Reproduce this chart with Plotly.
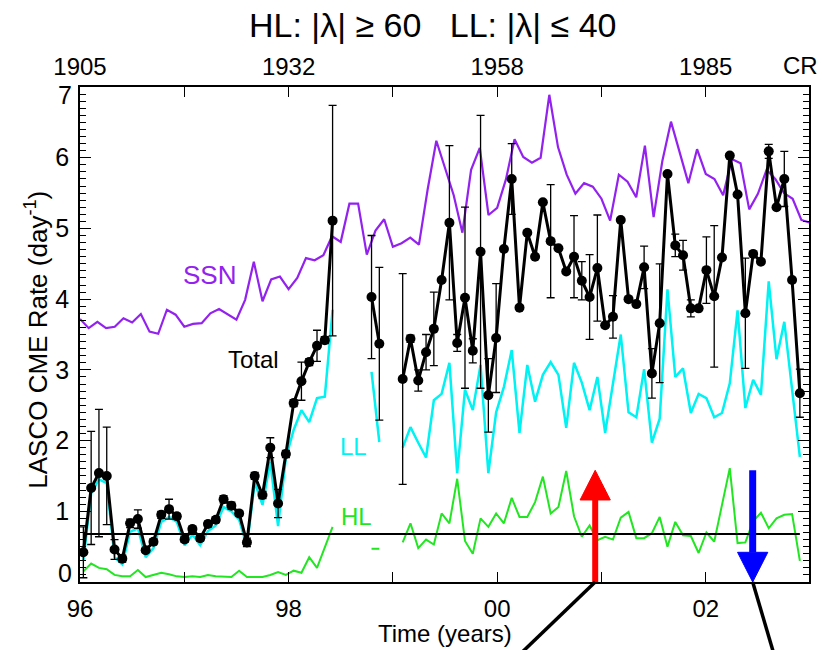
import plotly.graph_objects as go

# ---------------------------------------------------------------------------
# LASCO CME rates, one sample per Carrington rotation starting at CR 1905
# (None = no LASCO data, SOHO interruption 1998-1999)
# ---------------------------------------------------------------------------
cr_first = 1905

total_rate = [
    0.42, 1.33, 1.54, 1.50, 0.46, 0.33, 0.83, 0.89, 0.45, 0.57,
    0.95, 1.03, 0.93, 0.60, 0.75, 0.62, 0.82, 0.88, 1.17, 1.08,
    0.97, 0.56, 1.50, 1.23, 1.90, 1.11, 1.81, 2.53, 2.84, 3.11,
    3.34, 3.42, 5.11, None, None, None, None, 4.03, 3.37, None,
    None, 2.87, 3.44, 2.85, 3.25, 3.58, 4.27, 5.08, 3.38, 4.02,
    3.27, 4.67, 2.64, 3.45, 4.71, 5.70, 3.88, 4.94, 4.60, 5.37,
    4.82, 4.72, 4.39, 4.60, 4.26, 4.03, 4.44, 3.63, 3.75, 5.12,
    4.00, 3.93, 4.45, 2.95, 3.66, 5.77, 4.76, 4.62, 3.87, 3.87,
    4.41, 4.04, 4.59, 6.03, 5.48, 3.80, 4.64, 4.53, 6.09, 5.30,
    5.70, 4.27, 2.67,
]

total_err = [
    0.36, 0.80, 0.90, 0.69, 0.14, 0.05, 0.06, 0.13, 0.03, 0.04,
    0.05, 0.14, 0.04, 0.04, 0.04, 0.04, 0.04, 0.04, 0.05, 0.05,
    0.04, 0.06, 0.05, 0.05, 0.14, 0.20, 0.05, 0.05, 0.27, 0.05,
    0.22, 0.05, 1.63, None, None, None, None, 0.87, 1.08, None,
    None, 1.49, 0.05, 0.15, 0.25, 0.52, 0.00, 1.09, 0.12, 1.28,
    0.17, 1.93, 0.52, 0.77, 0.00, 0.50, 0.00, 0.00, 0.00, 0.00,
    0.80, 0.00, 0.00, 0.58, 0.27, 0.60, 0.75, 0.00, 0.30, 0.00,
    0.00, 0.00, 0.30, 0.35, 0.84, 0.00, 0.16, 0.21, 0.12, 0.00,
    0.47, 1.00, 0.00, 0.00, 0.00, 0.78, 0.00, 0.00, 0.10, 0.00,
    0.39, 0.00, 0.34,
]

ll_rate = [
    0.30, 1.25, 1.45, 1.40, 0.35, 0.25, 0.71, 0.76, 0.35, 0.48,
    0.85, 0.92, 0.85, 0.52, 0.67, 0.52, 0.72, 0.80, 1.06, 1.00,
    0.88, 0.50, 1.41, 1.09, 1.70, 0.79, 1.75, 2.15, 2.43, 2.26,
    2.60, 2.62, 3.85, None, None, None, None, 2.97, 1.98, None,
    None, 1.90, 2.19, 1.97, 1.76, 2.57, 2.66, 3.10, 1.54, 2.72,
    2.43, 3.07, 1.54, 2.40, 2.76, 3.28, 2.11, 3.07, 2.55, 2.93,
    3.11, 2.93, 2.18, 3.10, 2.82, 2.43, 2.90, 2.11, 2.79, 3.50,
    2.40, 2.33, 3.01, 1.97, 2.31, 4.14, 2.90, 3.02, 2.39, 2.66,
    2.60, 2.33, 2.39, 2.81, 3.84, 2.46, 2.86, 2.65, 4.25, 3.15,
    3.68, 2.69, 1.77,
]

hl_rate = [
    0.15, 0.26, 0.20, 0.18, 0.10, 0.08, 0.08, 0.17, 0.07, 0.10,
    0.13, 0.11, 0.08, 0.07, 0.08, 0.07, 0.10, 0.08, 0.07, 0.07,
    0.16, 0.07, 0.07, 0.07, 0.10, 0.14, 0.10, 0.16, 0.13, 0.35,
    0.20, 0.50, 0.78, None, None, None, None, 0.47, 0.47, None,
    None, 0.56, 0.83, 0.48, 0.60, 0.53, 0.97, 0.83, 1.46, 0.58,
    0.40, 0.90, 0.78, 0.97, 0.83, 1.19, 0.92, 0.92, 1.13, 1.49,
    0.97, 1.06, 1.57, 0.93, 0.64, 0.80, 0.59, 0.64, 0.60, 0.91,
    0.99, 0.62, 0.62, 0.69, 0.92, 0.50, 0.85, 0.66, 0.65, 0.41,
    0.70, 0.57, 1.09, 1.61, 0.55, 0.56, 0.86, 0.98, 0.76, 0.90,
    0.95, 0.96, 0.30,
]

# Monthly sunspot number, rescaled onto the CME-rate axis (Jan 1996 onward)
ssn_scaled = [
    3.72, 3.59, 3.68, 3.59, 3.61, 3.73, 3.67, 3.79, 3.54, 3.51,
    3.85, 3.78, 3.61, 3.65, 3.66, 3.80, 3.86, 3.78, 3.71, 3.99,
    4.53, 3.97, 4.28, 4.32, 4.14, 4.30, 4.58, 4.55, 4.62, 4.89,
    4.81, 5.35, 5.35, 4.63, 4.97, 5.13, 4.74, 4.79, 4.87, 4.77,
    5.55, 6.24, 5.87, 5.47, 4.94, 5.83, 6.14, 5.19, 5.29, 5.69,
    6.26, 6.01, 5.93, 6.00, 6.89, 6.15, 5.76, 5.49, 5.64, 5.59,
    5.42, 5.11, 5.76, 5.66, 5.44, 6.17, 5.16, 5.95, 6.51, 6.08,
    5.64, 6.12, 5.77, 5.70, 5.47, 5.98, 5.92, 5.27, 5.49, 5.83,
    5.70, 5.50, 5.42, 5.12, 5.08,
]

hl_level = 0.68          # reference level drawn across the HL series

label_years = [1996, 1998, 2000, 2002]
year_labels = ["96", "98", "00", "02"]
cr_tick_labels = ["1905", "1932", "1958", "1985"]
inner_rate_ticks = [1, 2, 3, 4, 5, 6]
rate_end_ticks = [0, 7]

# Polarity-reversal markers (time of the reversal, arrow tip / tail level)
red_arrow_year = 2000.94
blue_arrow_year = 2002.45
arrow_level = 1.58

# ---------------------------------------------------------------------------
# Time coordinates
# ---------------------------------------------------------------------------
CR_PERIOD_YR = 27.2753 / 365.25
CR1905_START = 1995.995


def cr_mid_year(n):
    return CR1905_START + (n - cr_first + 0.5) * CR_PERIOD_YR


x_cr = [cr_mid_year(cr_first + i) for i in range(len(total_rate))]
x_month = [1996 + m / 12 for m in range(len(ssn_scaled))]

X_RANGE = [1996.0, 2002.99]
Y_RANGE = [0, 7]

FONT = "Liberation Sans, Arial, Helvetica, sans-serif"
PURPLE = "#9322ee"
CYAN = "#00f2f2"
GREEN = "#22e622"
NB = "\u00a0"

fig = go.Figure()

fig.add_trace(go.Scatter(x=x_month, y=ssn_scaled, mode="lines",
                         line=dict(color=PURPLE, width=2.2), hoverinfo="skip"))
fig.add_trace(go.Scatter(x=x_cr, y=ll_rate, mode="lines",
                         line=dict(color=CYAN, width=2.5), hoverinfo="skip"))
fig.add_trace(go.Scatter(x=x_cr, y=hl_rate, mode="lines",
                         line=dict(color=GREEN, width=2), hoverinfo="skip"))
fig.add_trace(go.Scatter(x=[x_cr[0], x_cr[-1]], y=[hl_level, hl_level],
                         mode="lines", line=dict(color="black", width=2),
                         hoverinfo="skip"))
fig.add_trace(go.Scatter(
    x=x_cr, y=total_rate, mode="lines+markers",
    line=dict(color="black", width=3),
    marker=dict(color="black", size=10, symbol="circle"),
    error_y=dict(type="data", array=total_err, visible=True,
                 color="black", thickness=1.3, width=4),
    hoverinfo="skip"))
# carrier for the Carrington-rotation axis on top
fig.add_trace(go.Scatter(x=X_RANGE, y=[None, None], xaxis="x2",
                         mode="lines", showlegend=False, hoverinfo="skip"))

# ---------------------------------------------------------------------------
# Arrows marking the polarity reversals
# ---------------------------------------------------------------------------
head_len = 0.42
head_half = 0.145
shapes = []
# red: pointing up
shapes.append(dict(type="line", xref="x", yref="y",
                   x0=red_arrow_year, x1=red_arrow_year,
                   y0=Y_RANGE[0], y1=arrow_level - head_len,
                   line=dict(color="#ff0000", width=6)))
shapes.append(dict(type="path", xref="x", yref="y",
                   path=(f"M {red_arrow_year - head_half},{arrow_level - head_len} "
                         f"L {red_arrow_year + head_half},{arrow_level - head_len} "
                         f"L {red_arrow_year},{arrow_level} Z"),
                   fillcolor="#ff0000", line=dict(color="#ff0000", width=1)))
# blue: pointing down
shapes.append(dict(type="line", xref="x", yref="y",
                   x0=blue_arrow_year, x1=blue_arrow_year,
                   y0=arrow_level, y1=head_len,
                   line=dict(color="#0000ff", width=7)))
shapes.append(dict(type="path", xref="x", yref="y",
                   path=(f"M {blue_arrow_year - head_half},{head_len} "
                         f"L {blue_arrow_year + head_half},{head_len} "
                         f"L {blue_arrow_year},{Y_RANGE[0]} Z"),
                   fillcolor="#0000ff", line=dict(color="#0000ff", width=1)))


def to_paper_x(year):
    return (year - X_RANGE[0]) / (X_RANGE[1] - X_RANGE[0])


# leader lines running from the arrows out below the axis
shapes.append(dict(type="line", xref="paper", yref="paper",
                   x0=to_paper_x(red_arrow_year), y0=0,
                   x1=to_paper_x(red_arrow_year) - 0.099, y1=-0.14,
                   line=dict(color="black", width=3.5)))
shapes.append(dict(type="line", xref="paper", yref="paper",
                   x0=to_paper_x(blue_arrow_year), y0=0,
                   x1=to_paper_x(blue_arrow_year) + 0.028, y1=-0.14,
                   line=dict(color="black", width=3.5)))

title_text = f"HL: |λ| ≥ 60{NB}{NB}{NB}LL: |λ| ≤ 40"

annotations = [
    dict(text=title_text, x=0.484, y=1.125,
         xref="paper", yref="paper", showarrow=False,
         font=dict(size=34, color="black", family=FONT),
         xanchor="center", yanchor="middle"),
    dict(text="CR", x=0.988, y=1.044, xref="paper", yref="paper",
         showarrow=False, font=dict(size=24, color="black", family=FONT),
         xanchor="center", yanchor="middle"),
    dict(text="LASCO CME Rate (day<sup>-1</sup>)", x=-0.06, y=0.49,
         xref="paper", yref="paper", showarrow=False, textangle=-90,
         font=dict(size=26, color="black", family=FONT),
         xanchor="center", yanchor="middle"),
    dict(text="Time (years)", x=0.5, y=-0.104, xref="paper", yref="paper",
         showarrow=False, font=dict(size=24, color="black", family=FONT),
         xanchor="center", yanchor="middle"),
    dict(text="SSN", x=1997.24, y=4.34, xref="x", yref="y", showarrow=False,
         font=dict(size=26, color=PURPLE, family=FONT)),
    dict(text="Total", x=1997.66, y=3.15, xref="x", yref="y", showarrow=False,
         font=dict(size=24, color="black", family=FONT)),
    dict(text="LL", x=1998.62, y=1.92, xref="x", yref="y", showarrow=False,
         font=dict(size=24, color=CYAN, family=FONT)),
    dict(text="HL", x=1998.65, y=0.92, xref="x", yref="y", showarrow=False,
         font=dict(size=24, color=GREEN, family=FONT)),
]

# end labels of the rate axis sit just inside the box
for val, shift in zip(rate_end_ticks, (9, -8)):
    annotations.append(dict(text=str(val), x=0, y=val, xref="paper", yref="y",
                            showarrow=False, xanchor="right", yanchor="middle",
                            xshift=-6, yshift=shift,
                            font=dict(size=25, color="black", family=FONT)))

year_minor = dict(dtick=1, tick0=1996, ticks="inside", ticklen=10,
                  tickwidth=1.3, tickcolor="black", showgrid=False)

fig.update_layout(
    width=822, height=650,
    margin=dict(l=80, r=13, t=87, b=68),
    paper_bgcolor="white", plot_bgcolor="white",
    showlegend=False,
    font=dict(family=FONT, color="black", size=24),
    shapes=shapes,
    annotations=annotations,
    xaxis=dict(range=X_RANGE, tickvals=label_years, ticktext=year_labels,
               ticks="inside", ticklen=10, tickwidth=1.3, tickcolor="black",
               minor=year_minor,
               showline=True, linecolor="black", linewidth=1.5, mirror=True,
               showgrid=False, zeroline=False, ticklabelstandoff=4,
               tickfont=dict(size=24)),
    xaxis2=dict(range=X_RANGE, overlaying="x", side="top",
                tickvals=label_years, ticktext=cr_tick_labels,
                ticks="inside", ticklen=10, tickwidth=1.3, tickcolor="black",
                minor=year_minor,
                showline=False, showgrid=False, zeroline=False,
                ticklabelstandoff=6, tickfont=dict(size=24)),
    yaxis=dict(range=Y_RANGE, tickvals=inner_rate_ticks,
               ticks="inside", ticklen=11, tickwidth=1.3, tickcolor="black",
               minor=dict(dtick=0.1, ticks="inside", ticklen=6,
                          tickwidth=1, tickcolor="black", showgrid=False),
               showline=True, linecolor="black", linewidth=1.5,
               mirror="ticks", showgrid=False, zeroline=False,
               ticklabelstandoff=4, tickfont=dict(size=25)),
)

fig.write_html("out.html")
